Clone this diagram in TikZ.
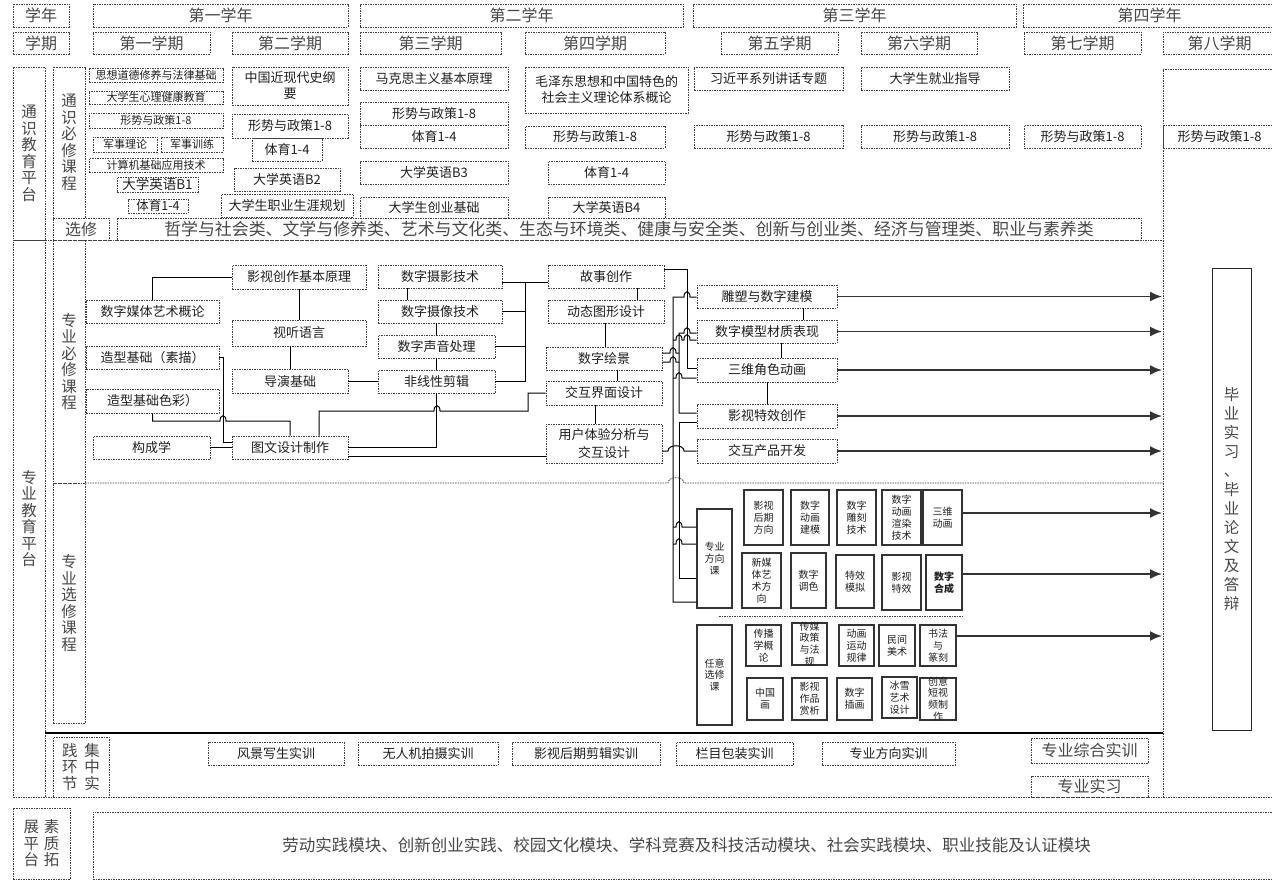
\documentclass[tikz,border=0pt]{standalone}
\usepackage{fontspec}
\setmainfont{Noto Sans CJK SC}
\usetikzlibrary{arrows.meta}

\tikzset{
  every node/.style={inner sep=0pt, text=black!88},
  cell/.style args={#1,#2,#3,#4}{at={({(#1+#3)/2},{(#2+#4)/2})},
    minimum width={(#3)-(#1)}, minimum height={(#4)-(#2)}},
  dotbox/.style={draw=black!75, line width=0.8pt, dash pattern=on 1.5pt off 1pt},
  hdr/.style={dotbox, text=black!72, font=\fontsize{16}{17}\selectfont},
  course/.style={dotbox, align=center, font=\fontsize{13}{16}\selectfont},
  tinycourse/.style={dotbox, font=\fontsize{11}{12}\selectfont},
  vlabel/.style={dotbox, align=center, text=black!72, font=\fontsize{15.5}{16.5}\selectfont},
  optbox/.style={draw=black!80, line width=1.2pt, align=center, font=\fontsize{10}{11.8}\selectfont},
  optlabel/.style={align=center, font=\fontsize{10}{11.8}\selectfont},
  wire/.style={draw=black, line width=1pt},
  flow/.style={draw=black!80, line width=1.8pt, -{Latex[length=12pt,width=10pt]}},
  hop/.style={insert path={.. controls +(0,-7) and +(0,-7) .. ++(#1,0)}},
  hop/.default=6
}

\begin{document}
\begin{tikzpicture}[x=1pt, y=-1pt]
  \useasboundingbox (0,0) rectangle (1272,880);
  \clip (0,0) rectangle (1272,880);

  % years and terms
  \node[hdr, cell={13,4,69,27}] (xn) {学年};
  \node[hdr, cell={93,4,348,27}] (xn1) {第一学年};
  \node[hdr, cell={360,4,683,27}] (xn2) {第二学年};
  \node[hdr, cell={693,4,1016,27}] (xn3) {第三学年};
  \node[hdr, cell={1023,4,1276,27}] (xn4) {第四学年};
  \node[hdr, cell={13,32,69,54}] (xq) {学期};
  \node[hdr, cell={93,32,210,54}] (xq1) {第一学期};
  \node[hdr, cell={232,32,348,54}] (xq2) {第二学期};
  \node[hdr, cell={360,32,501,54}] (xq3) {第三学期};
  \node[hdr, cell={525,32,665,54}] (xq4) {第四学期};
  \node[hdr, cell={721,32,838,54}] (xq5) {第五学期};
  \node[hdr, cell={861,32,977,54}] (xq6) {第六学期};
  \node[hdr, cell={1024,32,1141,54}] (xq7) {第七学期};
  \node[hdr, cell={1163,32,1276,54}] (xq8) {第八学期};

  % general education platform
  \node[vlabel, cell={13,67,45,240}] (tsjy) {通\\识\\教\\育\\平\\台};
  \node[vlabel, cell={53,67,85,218}] (tsbx) {通\\识\\必\\修\\课\\程};
  \node[hdr, cell={53,218,109,240}] (xx) {选修};
  \node[hdr, font=\fontsize{16.9}{18}\selectfont, cell={117,218,1141,240}] (xxnr) {哲学与社会类、文学与修养类、艺术与文化类、生态与环境类、健康与安全类、创新与创业类、经济与管理类、职业与素养类};

  \node[tinycourse, cell={89,68,223,82}] (sxdd) {思想道德修养与法律基础};
  \node[tinycourse, cell={89,91,223,104}] (xljk) {大学生心理健康教育};
  \node[tinycourse, cell={89,113,223,128}] (xs1) {形势与政策1-8};
  \node[tinycourse, cell={93,137,157,152}] (jsll) {军事理论};
  \node[tinycourse, cell={161,137,223,152}] (jsxl) {军事训练};
  \node[tinycourse, cell={89,158,223,172}] (jsj) {计算机基础应用技术};
  \node[course, font=\fontsize{13.5}{15}\selectfont, cell={117,177,198,192}] (yy1) {大学英语B1};
  \node[course, font=\fontsize{12.5}{14}\selectfont, cell={128,199,188,213}] (ty1) {体育1-4};

  \node[course, cell={232,67,348,105}] (zgjx) {中国近现代史纲\\要};
  \node[course, cell={232,114,348,138}] (xs2) {形势与政策1-8};
  \node[course, cell={252,138,322,161}] (ty2) {体育1-4};
  \node[course, cell={234,168,340,191}] (yy2) {大学英语B2};
  \node[course, cell={221,194,353,217}] (zysy) {大学生职业生涯规划};

  \node[course, cell={360,67,508,90}] (mkjb) {马克思主义基本原理};
  \node[course, cell={360,102,508,125}] (xs3) {形势与政策1-8};
  \node[course, cell={360,125,508,148}] (ty3) {体育1-4};
  \node[course, cell={360,161,508,184}] (yy3) {大学英语B3};
  \node[course, cell={360,197,508,218}] (cyjc) {大学生创业基础};

  \node[course, cell={525,67,688,113}] (mzd) {毛泽东思想和中国特色的\\社会主义理论体系概论};
  \node[course, cell={525,126,665,148}] (xs4) {形势与政策1-8};
  \node[course, cell={548,161,665,184}] (ty4) {体育1-4};
  \node[course, cell={548,197,665,218}] (yy4) {大学英语B4};

  \node[course, cell={694,67,843,90}] (xjp) {习近平系列讲话专题};
  \node[course, cell={694,125,843,148}] (xs5) {形势与政策1-8};
  \node[course, cell={861,67,1009,90}] (jyzd) {大学生就业指导};
  \node[course, cell={861,125,1009,148}] (xs6) {形势与政策1-8};
  \node[course, cell={1024,125,1141,148}] (xs7) {形势与政策1-8};
  \node[course, cell={1163,125,1276,148}] (xs8) {形势与政策1-8};

  % professional education platform frame
  \draw[dotbox] (1163,797) -- (1163,69) -- (1276,69);
  \draw[dotbox] (45,240) -- (1163,240);
  \draw[dotbox] (13,797) -- (1276,797);
  \node[vlabel, cell={13,240,45,797}] (zyjy) {专\\业\\教\\育\\平\\台};
  \node[vlabel, cell={53,240,85,483}] (zybx) {专\\业\\必\\修\\课\\程};
  \node[vlabel, cell={53,483,85,723}] (zyxx) {专\\业\\选\\修\\课\\程};
  \draw[dotbox] (85,483) -- (668,483) [hop=16] -- (1163,483);
  \draw[wire, line width=1.3pt] (45,733) -- (1163,733);
  \node[vlabel, cell={53,737,109,797}] (jzsj) {践\hspace{7pt}集\\环\hspace{7pt}中\\节\hspace{7pt}实};

  % required courses
  \node[course, cell={232,265,366,289}] (yscz) {影视创作基本原理};
  \node[course, cell={86,300,219,323}] (szmt) {数字媒体艺术概论};
  \node[course, cell={232,320,366,346}] (styy) {视听语言};
  \node[course, cell={86,346,219,369}] (zxsm) {造型基础（素描）};
  \node[course, cell={232,369,348,393}] (dyjc) {导演基础};
  \node[course, cell={86,389,219,413}] (zxsc) {造型基础色彩）};
  \node[course, cell={93,436,210,459}] (gcx) {构成学};
  \node[course, cell={232,436,348,459}] (twsj) {图文设计制作};
  \node[course, cell={378,265,502,288}] (szsy) {数字摄影技术};
  \node[course, cell={378,300,502,323}] (szsx) {数字摄像技术};
  \node[course, cell={378,335,495,358}] (szsycl) {数字声音处理};
  \node[course, cell={378,370,495,393}] (fxxj) {非线性剪辑};
  \node[course, cell={548,265,664,288}] (gscz) {故事创作};
  \node[course, cell={548,300,664,323}] (dttx) {动态图形设计};
  \node[course, cell={546,347,662,370}] (szhj) {数字绘景};
  \node[course, cell={546,381,662,405}] (jhjm) {交互界面设计};
  \node[course, font=\fontsize{13}{18}\selectfont, cell={546,424,662,463}] (yhty) {用户体验分析与\\交互设计};
  \node[course, cell={697,285,837,308}] (dsjm) {雕塑与数字建模};
  \node[course, cell={697,320,837,343}] (szmx) {数字模型材质表现};
  \node[course, cell={697,358,837,382}] (swjs) {三维角色动画};
  \node[course, cell={697,404,837,428}] (ystx) {影视特效创作};
  \node[course, cell={697,439,837,463}] (jhcp) {交互产品开发};
  \coordinate (rim) at (1162,0);

  \draw[wire] (szmt.north) |- (yscz.west);
  \draw[wire] (yscz.south) -- (styy.north);
  \draw[wire] (dyjc.north) -- (dyjc.north |- styy.south);
  \draw[wire] (dyjc.east) -- (fxxj.west |- dyjc.east);
  \draw[wire] (zxsm.east) -- ++(4,0) |- (twsj.west |- 0,442);
  \draw[wire] (zxsc.south) |- (220,421) [hop] -- (twsj.north |- 0,421) -- (twsj.north);
  \draw[wire] (gcx.east) -- (twsj.west |- gcx.east);
  \draw[wire] (twsj.north -| 319,0) |- (434,411) [hop] -- (528,411) |- (jhjm.west);
  \draw[wire] (twsj.east) -| (fxxj.south);
  \draw[wire] (twsj.east |- 0,456) -- (yhty.west |- 0,456);
  \draw[wire] (szsy.south -| 407,0) -- (szsx.north -| 407,0);
  \draw[wire] (szsycl.north) -- (szsycl.north |- szsx.south);
  \draw[wire] (szsycl.south) -- (fxxj.north);
  \draw[wire] (szsy.east |- 0,282) -- (gscz.west |- 0,282);
  \draw[wire] (525,282) |- (fxxj.east);
  \draw[wire] (szsx.east) -- (szsx.east -| 525,0);
  \draw[wire] (szsycl.east) -- (szsycl.east -| 525,0);
  \draw[wire] (gscz.south -| 637,0) -- (dttx.north -| 637,0);
  \draw[wire] (dttx.south -| 605,0) -- (szhj.north -| 605,0);
  \draw[wire] (szhj.south -| 617,0) -- (jhjm.north -| 617,0);
  \draw[wire] (jhjm.south -| 595,0) -- (yhty.north -| 595,0);
  \draw[wire] (gscz.east |- 0,269) -| (687,368) -- (swjs.west |- 0,368);
  \draw[wire] (dsjm.south -| 803,0) -- (szmx.north -| 803,0);
  \draw[wire] (szmx.south -| 781,0) -- (swjs.north -| 781,0);
  \draw[wire] (swjs.south -| 767,0) -- (ystx.north -| 767,0);

  % elective courses
  \node[optbox, cell={697,509,732,608}] (fxk) {专业\\方向\\课};
  \node[optbox, cell={697,625,732,725}] (ryxx) {任意\\选修\\课};
  \node[optbox, cell={744,490,783,545}] (yshq) {影视\\后期\\方向};
  \node[optbox, cell={791,490,829,545}] (szdhjm) {数字\\动画\\建模};
  \node[optbox, cell={837,490,876,545}] (szdk) {数字\\雕刻\\技术};
  \node[optbox, cell={882,490,921,545}] (szdhxr) {数字\\动画\\渲染\\技术};
  \node[optbox, cell={923,490,962,545}] (swdh) {三维\\动画};
  \node[optbox, cell={742,553,781,608}] (xmt) {新媒\\体艺\\术方\\向};
  \node[optbox, cell={791,553,826,608}] (sztz) {数字\\调色};
  \node[optbox, cell={836,555,874,608}] (txmn) {特效\\模拟};
  \node[optbox, cell={882,555,921,610}] (ystxf) {影视\\特效};
  \node[optbox, font=\bfseries\fontsize{10}{11.8}\selectfont, cell={926,555,962,610}] (szhc) {数字\\合成};
  \draw[dotbox] (719,616) -- (962,616);
  \node[optbox, cell={746,625,781,666}] (cbx) {传播\\学概\\论};
  \node[optbox, cell={792,623,827,665}, label={[optlabel]center:传媒\\政策\\与法\\规}] (cmzc) {};
  \node[optbox, cell={839,625,874,666}] (dhyd) {动画\\运动\\规律};
  \node[optbox, cell={879,625,915,666}] (mjms) {民间\\美术};
  \node[optbox, cell={920,625,956,666}] (sfzk) {书法\\与\\篆刻};
  \node[optbox, cell={747,678,783,720}] (zgh) {中国\\画};
  \node[optbox, cell={792,678,827,720}] (yszp) {影视\\作品\\赏析};
  \node[optbox, cell={837,678,872,720}] (szch) {数字\\插画};
  \node[optbox, cell={882,677,917,718}] (bxys) {冰雪\\艺术\\设计};
  \node[optbox, cell={920,678,956,720}, label={[optlabel]center:创意\\短视\\频制\\作}] (cydsp) {};

  % bus into the upper and elective courses
  \draw[wire] (fxk.west |- 0,602) -| (673,297) -- (684,297) [hop] -- (dsjm.west |- 0,297);
  \draw[wire] (ystx.west |- 0,413) -| (679,333) -- (684,333) [hop] -- (szmx.west |- 0,333);
  \draw[wire] (ystx.west |- 0,422) -| (679,578) -- (fxk.west |- 0,578);
  \draw[wire] (673,340) -- (676,340) [hop] -- (684,340) [hop] -- (szmx.west |- 0,340);
  \draw[wire] (szhj.east |- 0,353) -- (670,353) [hop] -- (679,353);
  \draw[wire] (szhj.east |- 0,362) -- (670,362) [hop] -- (679,362);
  \draw[wire] (673,378) -- (676,378) [hop] -- (swjs.west |- 0,378);
  \draw[wire] (yhty.east |- 0,451) -- (668,451) [hop=16] -- (jhcp.west |- 0,451);
  \draw[wire] (673,527) -- (676,527) [hop] -- (fxk.west |- 0,527);
  \draw[wire] (673,544) -- (676,544) [hop] -- (fxk.west |- 0,544);

  % arrows to the graduation block
  \draw[flow] (dsjm.east) -- (dsjm.east -| rim);
  \draw[flow] (szmx.east) -- (szmx.east -| rim);
  \draw[flow] (swjs.east) -- (swjs.east -| rim);
  \draw[flow] (ystx.east) -- (ystx.east -| rim);
  \draw[flow] (jhcp.east) -- (jhcp.east -| rim);
  \draw[flow] (swdh.east |- 0,513) -- (rim |- 0,513);
  \draw[flow] (szhc.east |- 0,574) -- (rim |- 0,574);
  \draw[flow] (sfzk.east |- 0,636) -- (rim |- 0,636);

  \node[draw=black!85, line width=1pt, align=center, text=black!72, font=\fontsize{15.5}{19}\selectfont, cell={1212,268,1251,730}] (bysx) {毕\\业\\实\\习\\、\\毕\\业\\论\\文\\及\\答\\辩};

  % practice
  \node[course, cell={208,742,344,765}] (fjxs) {风景写生实训};
  \node[course, cell={358,742,498,765}] (wrj) {无人机拍摄实训};
  \node[course, cell={512,742,660,765}] (hqjj) {影视后期剪辑实训};
  \node[course, cell={676,742,793,765}] (lmbz) {栏目包装实训};
  \node[course, cell={822,742,955,765}] (fxsx) {专业方向实训};
  \node[hdr, cell={1031,738,1148,763}] (zhsx) {专业综合实训};
  \node[hdr, cell={1031,776,1148,797}] (zysx) {专业实习};

  % quality platform
  \node[vlabel, cell={13,808,70,879}] (szkz) {展\hspace{5pt}素\\平\hspace{5pt}质\\台\hspace{5pt}拓};
  \node[hdr, font=\fontsize{16.5}{18}\selectfont, cell={93,812,1280,879}] (szmk) {劳动实践模块、创新创业实践、校园文化模块、学科竞赛及科技活动模块、社会实践模块、职业技能及认证模块};
\end{tikzpicture}
\end{document}
